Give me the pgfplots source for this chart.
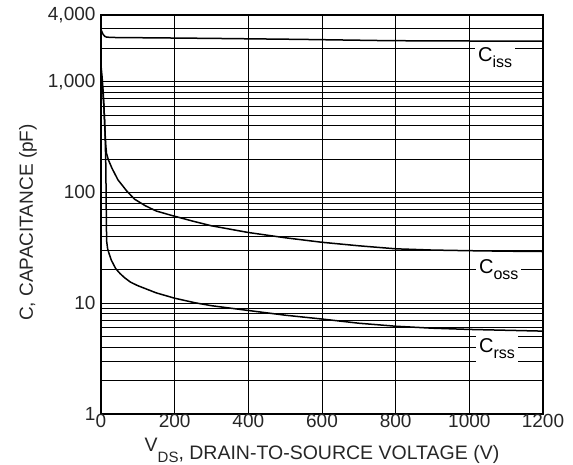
\documentclass[border=0pt]{standalone}
\usepackage{fontspec}
\setmainfont{Liberation Sans}
\usepackage{pgfplots}
\pgfplotsset{compat=1.18}

% capacitance vs. drain-source voltage
\pgfplotstableread{
V C
0 2950
2 2850
5 2700
10 2570
15 2525
30 2508
60 2500
133 2490
300 2460
540 2410
785 2345
1000 2330
1200 2320
}\ciss

\pgfplotstableread{
V C
0 1400
3 1100
6 800
9 500
11 350
13 265
15 225
20 197
30 165
46 130
56 118
70 103
91 87
120 76
150 68
192 62
250 55
300 50
400 43.5
500 39
600 35.5
700 33
800 31
900 30.2
1000 29.8
1100 29.5
1200 29.3
}\coss

\pgfplotstableread{
V C
0 1100
4 900
8 600
11 350
13 180
14 90
14.6 50
15.5 36
18 31
22 28
28 24.5
40 20.5
52 18.5
64 17
80 15.5
100 14.4
150 12.4
200 11.1
255 10.1
300 9.5
400 8.6
500 7.8
600 7.2
700 6.6
800 6.2
900 5.95
1000 5.8
1100 5.7
1200 5.6
}\crss

\newcommand\capl[1]{C\raisebox{-6pt}{\fontsize{16}{16}\selectfont #1}}

\begin{document}
\begin{tikzpicture}
\path[use as bounding box] (-101pt,-51pt) rectangle (472pt,414pt);
\begin{axis}[
  at={(0,0)}, anchor=south west,
  scale only axis, width=442pt, height=399pt,
  ymode=log, xmin=0, xmax=1200, ymin=1, ymax=4000,
  xtick={0,200,...,1200},
  xticklabels={0,200,400,600,800,1000,1200},
  ytick={1,10,100,1000,4000},
  yticklabels={1,10,100,{1,000},{4,000}},
  minor ytick={2,3,4,5,6,7,8,9,20,30,40,50,60,70,80,90,200,300,400,500,600,700,800,900,2000,3000},
  major tick length=0pt, minor tick length=0pt,
  grid=both,
  major grid style={black, line width=1pt},
  minor grid style={black, line width=1pt},
  axis line style={black, line width=1.8pt},
  tick label style={font=\fontsize{19}{21}\selectfont, text=black!85},
  xticklabel style={yshift=3pt},
  yticklabel style={xshift=-2pt},
  xlabel={\raisebox{8pt}{V}\raisebox{-3pt}{\fontsize{15}{15}\selectfont DS}, DRAIN-TO-SOURCE VOLTAGE (V)},
  xlabel style={font=\fontsize{19.5}{22}\selectfont, text=black!85, at={(axis description cs:0.5,-0.113)}, anchor=base},
  ylabel={C, CAPACITANCE (pF)},
  ylabel style={font=\fontsize{19}{22}\selectfont, text=black!85, at={(axis description cs:-0.154,0.48)}, anchor=base},
]
\addplot[black, line width=1.5pt, no marks] table[x=V, y=C] {\ciss};
\addplot[black, line width=1.5pt, no marks] table[x=V, y=C] {\coss};
\addplot[black, line width=1.5pt, no marks] table[x=V, y=C] {\crss};
\node[fill=white, inner sep=3pt, font=\fontsize{20}{22}\selectfont] at (axis cs:1070,1640) {\capl{iss}};
\node[fill=white, inner sep=3pt, font=\fontsize{20}{22}\selectfont] at (axis cs:1080,20) {\capl{oss}};
\node[fill=white, inner sep=3pt, font=\fontsize{20}{22}\selectfont] at (axis cs:1075,3.9) {\capl{rss}};
\end{axis}
\end{tikzpicture}
\end{document}
